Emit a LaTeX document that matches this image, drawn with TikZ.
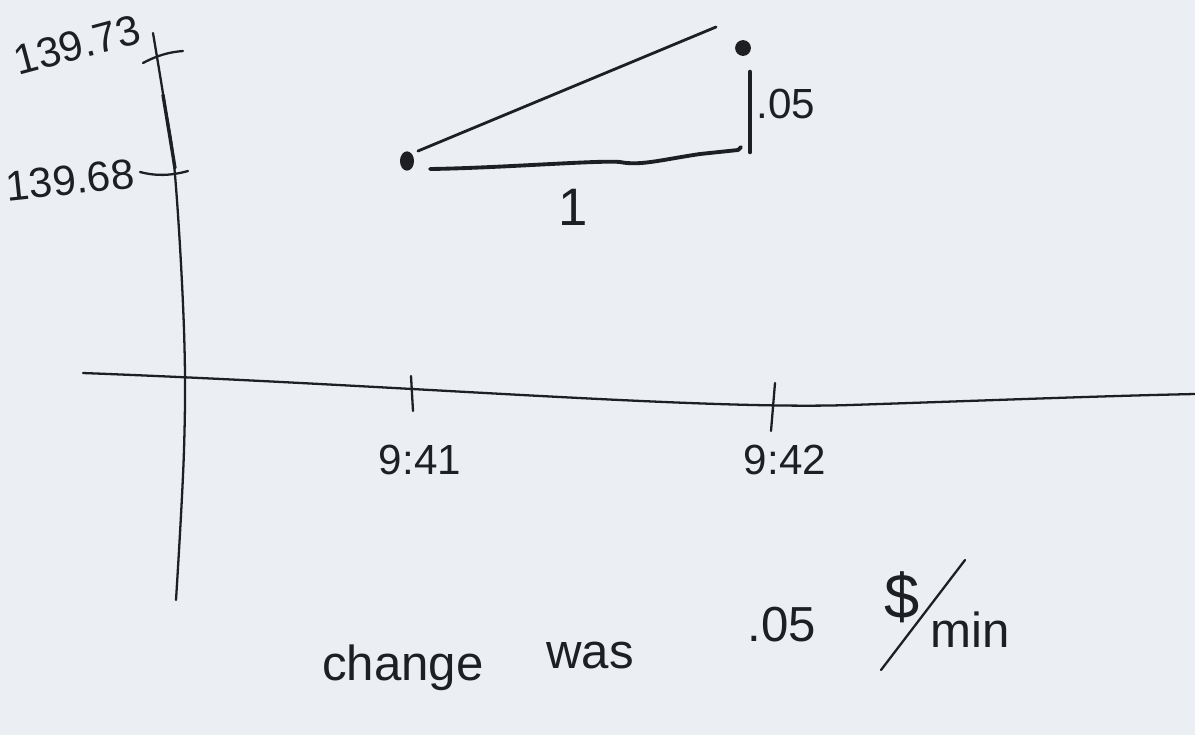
\documentclass[tikz,border=0pt]{standalone}
\usepackage{fontspec}
\usetikzlibrary{shapes.geometric}
\setmainfont{Liberation Sans}
\definecolor{bg}{HTML}{EBEEF2}
\definecolor{ink}{HTML}{1E1F22}
\begin{document}
\begin{tikzpicture}[x=0.02cm,y=-0.02cm,
  pen/.style={draw=ink,line width=1.3pt,line cap=round,line join=round},
  thickpen/.style={draw=ink,line width=2.6pt,line cap=round,line join=round},
  lab/.style={text=ink,inner sep=0pt,font=\fontsize{24}{28}\selectfont},
  biglab/.style={text=ink,inner sep=0pt,font=\fontsize{28}{32}\selectfont},
  dotstyle/.style={circle,fill=ink,inner sep=0pt}]
\fill[bg] (0,0) rectangle (1195,735);
\useasboundingbox (0,0) rectangle (1195,735);
% vertical axis
\draw[pen] plot[smooth,tension=0.6] coordinates {(153,33) (164,100) (175,175) (184,330) (184,450) (176,600)};
\draw[pen,line width=1.9pt] (163,95) -- (175,168);
% y ticks
\draw[pen] (143,63) .. controls (158,55) and (170,52) .. (183,51);
\draw[pen] (140,172) .. controls (155,176) and (170,176) .. (188,171);
% y labels
\node[lab,rotate=15] (y73) at (77,45) {139.73};
\node[lab,rotate=6] (y68) at (70,180) {139.68};
% horizontal axis
\draw[pen] (83,373) .. controls (400,385) and (700,410) .. (850,405) .. controls (1000,400) and (1100,396) .. (1195,394);
% x ticks
\draw[pen] (411,376) -- (413,411);
\draw[pen] (775,383) -- (771,431);
\node[lab] (t41) at (420,460) {9:41};
\node[lab] (t42) at (785,460) {9:42};
% points
\node[ellipse,fill=ink,inner sep=0pt,minimum width=8pt,minimum height=11pt] (pa) at (407,161) {};
\node[dotstyle,minimum size=9pt] (pb) at (743,48) {};
\coordinate (hypS) at (418,151);
\coordinate (hypE) at (716,27);
\draw[pen,line width=1.6pt] (hypS) -- (hypE);
% base leg
\coordinate (baseS) at (430,169);
\coordinate (baseE) at (741,147);
\draw[thickpen,line width=2.2pt] (baseS) .. controls (500,168) and (600,160) .. (620,162) .. controls (640,166) and (660,160) .. (700,154) -- (738,150) -- (baseE);
% vertical leg
\coordinate (legT) at (750,72);
\coordinate (legB) at (750,152);
\draw[thickpen] (legT) -- (legB);
\node[lab,anchor=west] (d05) at (756,104) {.05};
\node[lab,font=\fontsize{30}{34}\selectfont] (one) at (573,207) {1};
% bottom text
\node[biglab] (change) at (403,668) {change};
\node[biglab] (was) at (590,655) {was};
\node[biglab] (v05) at (782,625) {.05};
\node[biglab,font=\fontsize{36}{40}\selectfont] (dollar) at (902,597) {\$};
\coordinate (slS) at (881,670);
\coordinate (slE) at (965,560);
\draw[pen] (slS) -- (slE);
\node[biglab,anchor=west] (min) at (930,630) {min};
\end{tikzpicture}
\end{document}
